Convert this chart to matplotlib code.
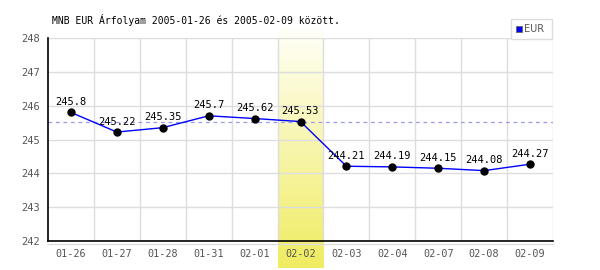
import numpy as np
import matplotlib
matplotlib.use('Agg')
import matplotlib.pyplot as plt
from matplotlib.patches import Rectangle

# chart data
dates = ['01-26', '01-27', '01-28', '01-31', '02-01', '02-02',
         '02-03', '02-04', '02-07', '02-08', '02-09']
rates = [245.8, 245.22, 245.35, 245.7, 245.62, 245.53,
         244.21, 244.19, 244.15, 244.08, 244.27]
highlight_index = 5
title = 'MNB EUR Árfolyam 2005-01-26 és 2005-02-09 között.'
series_name = 'EUR'

mono = 'DejaVu Sans Mono'
grey = '#555555'

fig = plt.figure(figsize=(6, 2.7), dpi=100)
ax = fig.add_axes([48 / 600, 1 - 241 / 270, 505 / 600, 203 / 270])

x = np.arange(len(dates))
ax.set_xlim(-0.5, len(dates) - 0.5)
ax.set_ylim(242, 248)

# highlighted day: vertical gradient band reaching below the axis
units_per_px = 6 / 203
band_bottom = 242 - (268 - 241) * units_per_px
band_top = 248 + (38 - 30) * units_per_px
grad = np.linspace(0, 1, 256).reshape(-1, 1)
top_c = np.array([1.0, 1.0, 0.97])
bot_c = np.array([0.94, 0.925, 0.38])
img = top_c + (bot_c - top_c) * grad[:, :, None] * np.ones((1, 1, 3))
ax.imshow(img, extent=(highlight_index - 0.5, highlight_index + 0.5, band_bottom, band_top),
          aspect='auto', origin='upper', zorder=0, clip_on=False)

# grid
for yv in range(243, 249):
    ax.axhline(yv, color='#dddddd', lw=1, zorder=1)
for xv in np.arange(0.5, len(dates), 1):
    ax.axvline(xv, color='#dddddd', lw=1, zorder=1)

# reference level of the highlighted day
ax.axhline(rates[highlight_index], color='#9999ee', lw=0.9, ls=(0, (3, 3)), zorder=2)

ax.plot(x, rates, color='blue', lw=1, zorder=3)
ax.plot(x, rates, 'o', color='black', ms=5, zorder=4)
for xi, v in zip(x, rates):
    ax.annotate(f'{v:g}', (xi, v), xytext=(0, 4), textcoords='offset points',
                ha='center', va='bottom', fontsize=7.5, family=mono, color='black', zorder=5)

for s in ['top', 'right']:
    ax.spines[s].set_visible(False)
ax.spines['left'].set_color('black')
ax.spines['bottom'].set_color('black')
ax.spines['left'].set_linewidth(1.2)
ax.spines['bottom'].set_linewidth(1.2)

ax.set_xticks(x)
ax.set_xticklabels(dates, family=mono, fontsize=7.3, color=grey)
ax.set_yticks(range(242, 249))
ax.set_yticklabels([str(v) for v in range(242, 249)], family=mono, fontsize=7.5, color=grey)
ax.tick_params(axis='both', length=0)
ax.tick_params(axis='x', pad=6)
ax.tick_params(axis='y', pad=6)

# grey line just under the x axis
fig.add_artist(plt.Line2D([48 / 600, 553 / 600], [1 - 244 / 270, 1 - 244 / 270],
                          color='#dddddd', lw=1))

fig.text(52 / 600, 1 - 20 / 270, title, family=mono, fontsize=7, color='black',
         ha='left', va='center')

# legend box
fig.add_artist(Rectangle((511 / 600, 1 - 39 / 270), 41 / 600, 20 / 270,
                         transform=fig.transFigure, facecolor='white',
                         edgecolor='#dddddd', lw=1))
fig.add_artist(Rectangle((516 / 600, 1 - 32 / 270), 6 / 600, 6 / 270,
                         transform=fig.transFigure, facecolor='blue',
                         edgecolor='#666666', lw=0.6))
fig.text(524 / 600, 1 - 29 / 270, series_name, fontsize=7, color=grey,
         ha='left', va='center')

fig.savefig('out.png', dpi=100)
